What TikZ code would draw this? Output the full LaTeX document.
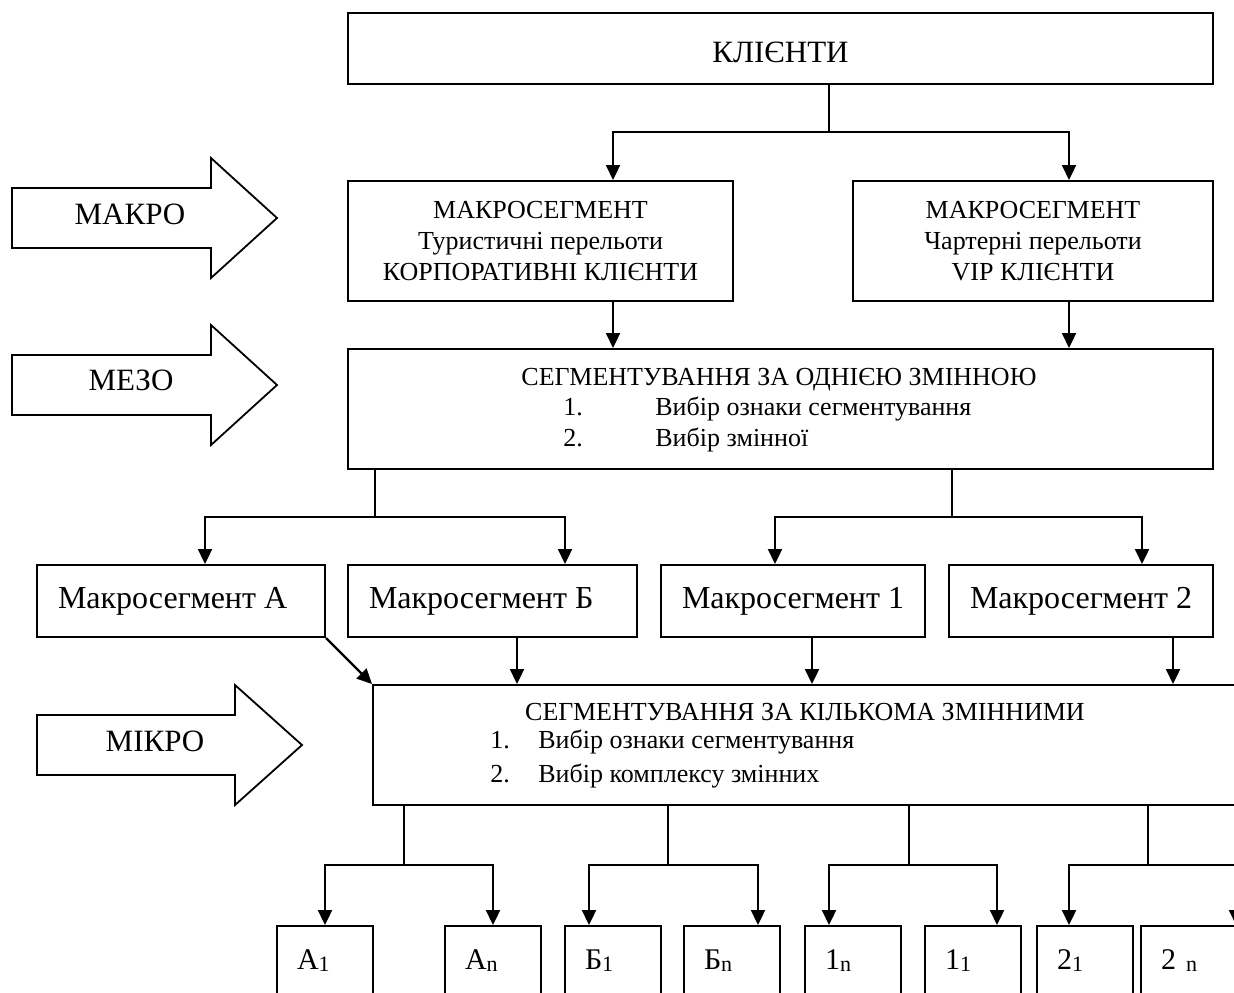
\documentclass[tikz,border=0pt]{standalone}
\usepackage{fontspec}
\setmainfont{Liberation Serif}
\usetikzlibrary{arrows.meta, positioning}

% level arrow: name, left x, neck x, tip x, mid y, label x, label y, text
\newcommand{\levelarrow}[8]{%
  \draw[levarr] (#2,#5-30) -- (#3,#5-30) -- (#3,#5-60) -- (#4,#5)
    -- (#3,#5+60) -- (#3,#5+30) -- (#2,#5+30) -- cycle;
  \node[lvltxt] (#1) at (#6,#7) {#8};}
\newcommand{\lowidx}[1]{\raisebox{-1pt}{\fontsize{11}{13}\selectfont #1}}

\begin{document}
\begin{tikzpicture}[
    x=0.5pt, y=-0.5pt,
    every node/.style={font=\fontsize{16}{19}\selectfont},
    box/.style={rectangle, draw, line width=1pt, inner sep=0pt},
    seg/.style={box, minimum height=36pt, inner xsep=10.5pt},
    small/.style={font=\fontsize{13}{15.5}\selectfont},
    txt/.style={small, anchor=base, inner sep=0pt},
    leaf/.style={box, anchor=north, minimum width=48pt, text width=28pt,
        align=left, inner xsep=10pt, inner ysep=9.5pt,
        text height=12pt, text depth=30pt, font=\fontsize{15}{18}\selectfont},
    lvltxt/.style={anchor=base, inner sep=0pt, font=\fontsize{15.5}{18}\selectfont},
    levarr/.style={draw, line width=0.9pt},
    arr/.style={-{Triangle[length=7.5pt, width=7pt]}, line width=1.1pt},
    link/.style={line width=0.7pt}
]
\useasboundingbox (0,0) rectangle (1234,992);
\clip (0,0) rectangle (1234,992);
\fill[white] (0,0) rectangle (1234,992);

%% ---- Levels ----
\levelarrow{makro}{12}{211}{277}{218}{130}{224}{МАКРО}
\levelarrow{mezo}{12}{211}{277}{385}{131}{390}{МЕЗО}
\levelarrow{mikro}{37}{235}{302}{745}{155}{751}{МІКРО}

%% ---- Boxes ----
\node[box, minimum width=432.5pt, minimum height=35.5pt, text height=14.5pt,
    font=\fontsize{15.5}{18}\selectfont] (clients) at (780.5,48.5) {КЛІЄНТИ};

\node[box, small, align=center, minimum width=192.5pt, minimum height=60pt] (macroA) at (540.5,241)
    {МАКРОСЕГМЕНТ\\Туристичні перельоти\\КОРПОРАТИВНІ КЛІЄНТИ};
\node[box, small, align=center, minimum width=180pt, minimum height=60pt] (macroB) at (1033,241)
    {МАКРОСЕГМЕНТ\\Чартерні перельоти\\VIP КЛІЄНТИ};

\node[box, minimum width=432.5pt, minimum height=60pt] (meso) at (780.5,409) {};
\node[txt] (mesoHead) at (779,385) {СЕГМЕНТУВАННЯ ЗА ОДНІЄЮ ЗМІННОЮ};
\node[txt, anchor=base west] (mesoOne) at (563,415) {\makebox[46pt][l]{1.}Вибір ознаки сегментування};
\node[txt, anchor=base west] (mesoTwo) at (563,446) {\makebox[46pt][l]{2.}Вибір змінної};

\node[seg] (segA) at (181,601)   {\makebox[123pt][l]{Макросегмент А}};
\node[seg] (segB) at (492.5,601) {\makebox[123.5pt][l]{Макросегмент Б}};
\node[seg] (seg1) at (793,601)   {\makebox[111pt][l]{Макросегмент 1}};
\node[seg] (seg2) at (1081,601)  {\makebox[111pt][l]{Макросегмент 2}};

\node[box, minimum width=443.5pt, minimum height=60pt] (micro) at (816.5,745) {};
\node[txt] (microHead) at (805,720) {СЕГМЕНТУВАННЯ ЗА КІЛЬКОМА ЗМІННИМИ};
\node[txt, anchor=base west] (microOne) at (490,748) {\makebox[24pt][l]{1.}Вибір ознаки сегментування};
\node[txt, anchor=base west] (microTwo) at (490,782) {\makebox[24pt][l]{2.}Вибір комплексу змінних};

\node[leaf] (a1)  at (325,925)  {А\lowidx{1}};
\node[leaf] (an)  at (493,925)  {А\lowidx{n}};
\node[leaf] (b1)  at (613,925)  {Б\lowidx{1}};
\node[leaf] (bn)  at (732,925)  {Б\lowidx{n}};
\node[leaf] (c1n) at (853,925)  {1\lowidx{n}};
\node[leaf] (c11) at (973,925)  {1\lowidx{1}};
\node[leaf] (d21) at (1085,925) {2\lowidx{1}};
\node[leaf] (d2n) at (1189,925) {2 \lowidx{n}};

%% ---- Columns and junctions ----
\coordinate (cK) at (613,0);
\coordinate (cV) at (1069,0);
\coordinate (cB) at (517,0);
\coordinate (c1) at (812,0);
\coordinate (c2) at (1173,0);
\coordinate (topJ)    at (829,132);
\coordinate (mesoJL)  at (375,517);
\coordinate (mesoJR)  at (952,517);
\coordinate (microJA) at (404,865);
\coordinate (microJB) at (668,865);
\coordinate (microJ1) at (909,865);
\coordinate (microJ2) at (1148,865);

%% ---- Connectors ----
\draw[link] (clients.south -| topJ) -- (topJ);
\draw[arr] (topJ) -| (macroA.north -| cK);
\draw[arr] (topJ) -| (macroB.north -| cV);
\draw[arr] (macroA.south -| cK) -- (meso.north -| cK);
\draw[arr] (macroB.south -| cV) -- (meso.north -| cV);

\draw[link] (meso.south -| mesoJL) -- (mesoJL);
\draw[link] (meso.south -| mesoJR) -- (mesoJR);
\draw[arr] (mesoJL) -| ([xshift=12pt]segA.north);
\draw[arr] (mesoJL) -| ([xshift=36.25pt]segB.north);
\draw[arr] (mesoJR) -| ([xshift=-9pt]seg1.north);
\draw[arr] (mesoJR) -| ([xshift=30.5pt]seg2.north);

\draw[arr] (segA.south east) -- (micro.north west);
\draw[arr] (segB.south -| cB) -- (micro.north -| cB);
\draw[arr] (seg1.south -| c1) -- (micro.north -| c1);
\draw[arr] (seg2.south -| c2) -- (micro.north -| c2);

\draw[link] (micro.south -| microJA) -- (microJA);
\draw[link] (micro.south -| microJB) -- (microJB);
\draw[link] (micro.south -| microJ1) -- (microJ1);
\draw[link] (micro.south -| microJ2) -- (microJ2);
\draw[arr] (microJA) -| (a1.north);
\draw[arr] (microJA) -| (an.north);
\draw[arr] (microJB) -| ([xshift=-12pt]b1.north);
\draw[arr] (microJB) -| ([xshift=13pt]bn.north);
\draw[arr] (microJ1) -| ([xshift=-12pt]c1n.north);
\draw[arr] (microJ1) -| ([xshift=12pt]c11.north);
\draw[arr] (microJ2) -| ([xshift=-8pt]d21.north);
\draw[arr] (microJ2) -| ([xshift=23.5pt]d2n.north);

\end{tikzpicture}
\end{document}
